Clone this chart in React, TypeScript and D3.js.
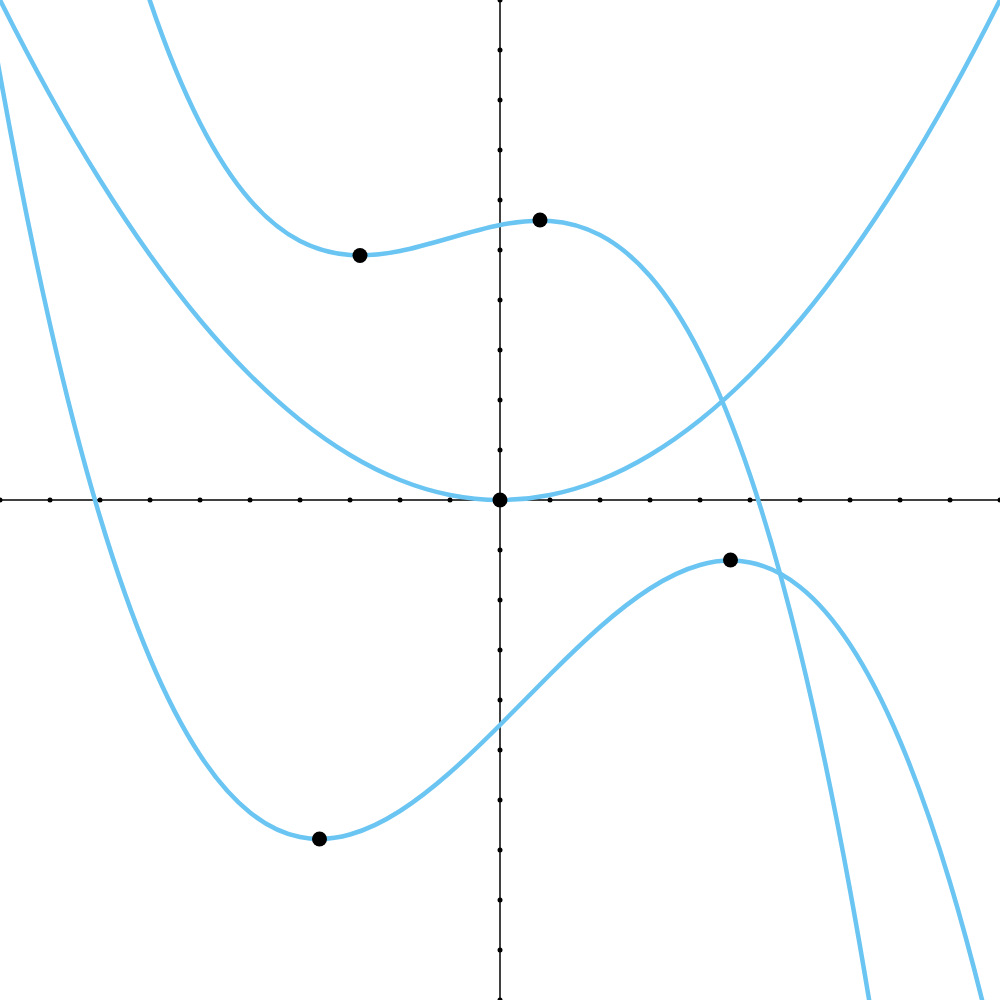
import React from "react";
import * as d3 from "d3";

const xs: number[] = [-12, -11, -10, -9, -8, -7, -6, -5, -4, -3, -2, -1, 0, 1, 2, 3, 4, 5, 6, 7, 8, 9, 10, 11, 12];
const parabolaY: number[] = [14.4, 12.1, 10, 8.1, 6.4, 4.9, 3.6, 2.5, 1.6, 0.9, 0.4, 0.1, 0, 0.1, 0.4, 0.9, 1.6, 2.5, 3.6, 4.9, 6.4, 8.1, 10, 12.1, 14.4];
const upperCubicY: number[] = [40.9, 32.34, 24.5, 18.28, 13.5, 9.98, 7.54, 6.0, 5.18, 4.9, 4.98, 5.24, 5.5, 5.58, 5.3, 4.48, 2.94, 0.5, -3.02, -7.8, -14.02, -21.86, -31.5, -43.12, -56.9];
const lowerCubicY: number[] = [22.38, 14.75, 8.5, 3.51, -0.34, -3.17, -5.1, -6.25, -6.74, -6.69, -6.22, -5.45, -4.5, -3.49, -2.54, -1.77, -1.3, -1.25, -1.74, -2.89, -4.82, -7.65, -11.5, -16.49, -22.74];
const markedPoints: [number, number][] = [
  [0, 0],
  [-2.8, 4.89],
  [0.8, 5.6],
  [-3.61, -6.78],
  [4.61, -1.2],
];
const tickValues: number[] = d3.range(-10, 10.5, 1);

const W = 1000;
const H = 1000;
const CURVE = "#6bc5f2";

export default function App() {
  const x = d3.scaleLinear().domain([-10, 10]).range([0, W]);
  const y = d3.scaleLinear().domain([-10, 10]).range([H, 0]);
  const line = d3
    .line<[number, number]>()
    .x((d) => x(d[0]))
    .y((d) => y(d[1]))
    .curve(d3.curveNatural);
  const series = [parabolaY, upperCubicY, lowerCubicY];
  return (
    <svg
      width={W}
      height={H}
      style={{ position: "absolute", left: 0, top: 0, background: "#fff" }}
    >
      <defs>
        <clipPath id="clip">
          <rect x={0} y={0} width={W} height={H} />
        </clipPath>
      </defs>
      <line x1={0} x2={W} y1={y(0)} y2={y(0)} stroke="#000" strokeWidth={1.5} />
      <line x1={x(0)} x2={x(0)} y1={0} y2={H} stroke="#000" strokeWidth={1.5} />
      <g clipPath="url(#clip)">
        {series.map((ys, i) => (
          <path
            key={i}
            d={line(xs.map((v, j) => [v, ys[j]] as [number, number])) || ""}
            fill="none"
            stroke={CURVE}
            strokeWidth={4.5}
          />
        ))}
      </g>
      {tickValues.map((t) => (
        <circle key={"tx" + t} cx={x(t)} cy={y(0)} r={2.5} fill="#000" />
      ))}
      {tickValues.map((t) => (
        <circle key={"ty" + t} cx={x(0)} cy={y(t)} r={2.5} fill="#000" />
      ))}
      {markedPoints.map((p, i) => (
        <circle key={"p" + i} cx={x(p[0])} cy={y(p[1])} r={7.5} fill="#000" />
      ))}
    </svg>
  );
}
